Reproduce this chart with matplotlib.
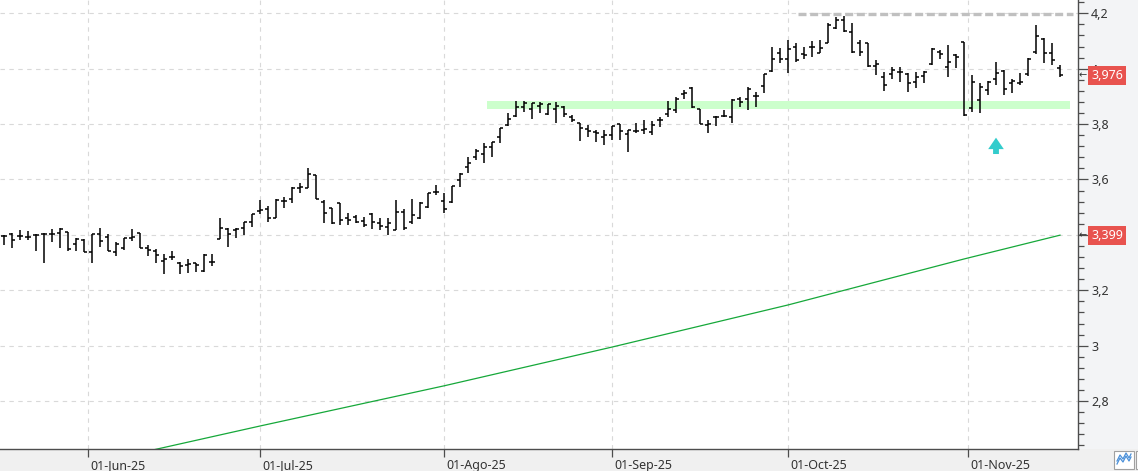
import matplotlib
matplotlib.use("Agg")
import matplotlib.pyplot as plt
import matplotlib.ticker as mtick
import matplotlib.transforms as mtrans
from matplotlib.patches import Rectangle
import numpy as np
import pandas as pd

# ── data ─────────────────────────────────────────────────────────────────────
DATES = pd.bdate_range("2025-05-16", "2025-11-18")

HIGH = [3.400, 3.406, 3.418, 3.415, 3.404, 3.406, 3.420, 3.426, 3.412, 3.388,
        3.386, 3.404, 3.424, 3.403, 3.375, 3.390, 3.420, 3.406, 3.364, 3.349,
        3.330, 3.342, 3.302, 3.313, 3.300, 3.330, 3.330, 3.462, 3.424, 3.424,
        3.448, 3.475, 3.526, 3.505, 3.529, 3.536, 3.572, 3.588, 3.643, 3.616,
        3.526, 3.498, 3.516, 3.480, 3.472, 3.464, 3.478, 3.460, 3.460, 3.526,
        3.492, 3.529, 3.520, 3.552, 3.580, 3.550, 3.578, 3.625, 3.680, 3.709,
        3.732, 3.737, 3.785, 3.839, 3.882, 3.883, 3.876, 3.880, 3.873, 3.879,
        3.864, 3.834, 3.805, 3.798, 3.780, 3.779, 3.794, 3.801, 3.779, 3.804,
        3.814, 3.811, 3.826, 3.885, 3.899, 3.924, 3.933, 3.853, 3.815, 3.829,
        3.851, 3.890, 3.899, 3.935, 3.917, 3.981, 4.077, 4.074, 4.104, 4.093,
        4.079, 4.101, 4.104, 4.164, 4.188, 4.190, 4.164, 4.104, 4.094, 4.031,
        3.989, 4.007, 4.005, 3.986, 3.989, 3.993, 4.074, 4.068, 4.086, 4.053,
        4.097, 3.977, 3.949, 3.956, 4.025, 3.995, 3.962, 3.986, 4.038, 4.158,
        4.110, 4.094, 4.013]

LOW = [3.364, 3.352, 3.382, 3.382, 3.343, 3.298, 3.373, 3.354, 3.343, 3.342,
       3.337, 3.300, 3.358, 3.342, 3.325, 3.346, 3.378, 3.352, 3.325, 3.298,
       3.258, 3.310, 3.258, 3.262, 3.266, 3.266, 3.286, 3.386, 3.358, 3.388,
       3.400, 3.430, 3.475, 3.446, 3.460, 3.496, 3.514, 3.550, 3.568, 3.529,
       3.444, 3.439, 3.436, 3.436, 3.444, 3.430, 3.420, 3.418, 3.400, 3.418,
       3.418, 3.439, 3.456, 3.496, 3.544, 3.478, 3.515, 3.572, 3.623, 3.669,
       3.659, 3.682, 3.733, 3.793, 3.825, 3.843, 3.817, 3.839, 3.833, 3.805,
       3.827, 3.808, 3.740, 3.755, 3.734, 3.726, 3.744, 3.743, 3.698, 3.767,
       3.764, 3.762, 3.791, 3.826, 3.839, 3.891, 3.859, 3.800, 3.769, 3.793,
       3.825, 3.805, 3.863, 3.851, 3.863, 3.913, 3.989, 4.019, 3.986, 4.025,
       4.034, 4.041, 4.056, 4.092, 4.142, 4.134, 4.058, 4.046, 4.007, 3.977,
       3.921, 3.962, 3.953, 3.917, 3.929, 3.949, 4.013, 4.034, 3.971, 4.001,
       3.829, 3.845, 3.841, 3.905, 3.941, 3.905, 3.913, 3.941, 3.974, 4.053,
       4.022, 4.013, 3.969]

OPEN = [3.396, 3.405, 3.396, 3.393, 3.401, 3.404, 3.405, 3.406, 3.410, 3.366,
        3.382, 3.337, 3.403, 3.393, 3.337, 3.352, 3.390, 3.406, 3.354, 3.342,
        3.304, 3.321, 3.298, 3.291, 3.297, 3.268, 3.302, 3.386, 3.420, 3.418,
        3.424, 3.446, 3.486, 3.494, 3.460, 3.523, 3.529, 3.571, 3.568, 3.616,
        3.520, 3.496, 3.516, 3.460, 3.464, 3.451, 3.475, 3.444, 3.430, 3.418,
        3.483, 3.448, 3.460, 3.502, 3.556, 3.523, 3.520, 3.597, 3.644, 3.682,
        3.692, 3.718, 3.752, 3.797, 3.831, 3.863, 3.855, 3.864, 3.836, 3.853,
        3.862, 3.825, 3.803, 3.784, 3.773, 3.753, 3.760, 3.801, 3.765, 3.776,
        3.779, 3.773, 3.813, 3.835, 3.852, 3.907, 3.931, 3.853, 3.797, 3.825,
        3.829, 3.827, 3.890, 3.890, 3.901, 3.938, 3.993, 4.056, 4.034, 4.080,
        4.053, 4.077, 4.058, 4.094, 4.146, 4.176, 4.134, 4.092, 4.092, 4.010,
        3.971, 3.981, 3.989, 3.981, 3.953, 3.974, 4.017, 4.061, 4.007, 4.049,
        4.095, 3.857, 3.887, 3.923, 3.963, 3.993, 3.949, 3.947, 3.981, 4.061,
        4.106, 4.058, 4.001]

CLOSE = [3.397, 3.382, 3.396, 3.391, 3.400, 3.404, 3.405, 3.420, 3.349, 3.386,
         3.337, 3.403, 3.378, 3.343, 3.366, 3.390, 3.393, 3.353, 3.346, 3.327,
         3.313, 3.321, 3.289, 3.295, 3.291, 3.327, 3.302, 3.424, 3.403, 3.420,
         3.446, 3.474, 3.490, 3.460, 3.526, 3.523, 3.571, 3.574, 3.620, 3.529,
         3.478, 3.444, 3.454, 3.454, 3.448, 3.436, 3.448, 3.432, 3.442, 3.484,
         3.425, 3.472, 3.516, 3.550, 3.556, 3.492, 3.575, 3.620, 3.659, 3.704,
         3.717, 3.735, 3.785, 3.820, 3.863, 3.876, 3.875, 3.871, 3.872, 3.865,
         3.835, 3.815, 3.786, 3.774, 3.767, 3.760, 3.793, 3.774, 3.777, 3.776,
         3.783, 3.798, 3.815, 3.855, 3.891, 3.911, 3.861, 3.802, 3.800, 3.825,
         3.829, 3.887, 3.881, 3.926, 3.901, 3.981, 4.034, 4.034, 4.070, 4.033,
         4.049, 4.079, 4.074, 4.158, 4.176, 4.136, 4.061, 4.061, 4.010, 4.016,
         3.941, 3.995, 3.989, 3.949, 3.969, 3.989, 4.070, 4.053, 4.025, 4.041,
         3.832, 3.953, 3.933, 3.953, 3.983, 3.926, 3.957, 3.953, 4.034, 4.118,
         4.056, 4.031, 3.976]

# moving average (green line), read at a few dates
MA_DATES = ["2025-05-16", "2025-06-12", "2025-07-01", "2025-08-01",
            "2025-09-01", "2025-10-01", "2025-10-31", "2025-11-18"]
MA_VALUES = [2.501, 2.626, 2.710, 2.855, 2.995, 3.147, 3.313, 3.399]

MONTH_TICKS = ["2025-06-01", "2025-07-01", "2025-08-01",
               "2025-09-01", "2025-10-01", "2025-11-01"]
MONTH_LABELS = ["01-Jun-25", "01-Jul-25", "01-Ago-25",
                "01-Sep-25", "01-Oct-25", "01-Nov-25"]

Y_TICKS = [2.8, 3.0, 3.2, 3.4, 3.6, 3.8, 4.0, 4.2]
Y_LABELS = ["2,8", "3", "3,2", "3,4", "3,6", "3,8", "4", "4,2"]

SUPPORT_ZONE = (3.856, 3.884)      # light green band
SUPPORT_FROM = "2025-08-11"
RESIST_LEVEL = 4.197               # grey dashed line
RESIST_FROM = "2025-10-03"
SIGNAL_DATE = "2025-11-06"         # cyan arrow
SIGNAL_RANGE = (3.692, 3.751)
LAST_CLOSE = 3.976
LAST_MA = 3.399

# ── palette ──────────────────────────────────────────────────────────────────
BAR_COLOR = "#000000"
MA_COLOR = "#16a83a"
ZONE_COLOR = "#ccffcc"
RESIST_COLOR = "#c0c0c0"
ARROW_COLOR = "#33cccc"
TAG_COLOR = "#e8534f"
GRID_COLOR = "#d9d9d9"
AXIS_COLOR = "#4d4d4d"

plt.rcParams["font.family"] = ["Noto Sans", "DejaVu Sans"]

W, H = 1138, 471
AX_RIGHT_PX, AX_BOTTOM_PX = 1078, 449


def date_pos(d):
    """Bar index of a date; non-trading days fall half way between bars."""
    d = pd.Timestamp(d)
    i = DATES.searchsorted(d)
    if i < len(DATES) and DATES[i] == d:
        return float(i)
    return i - 0.5


idx = np.arange(len(DATES))

fig = plt.figure(figsize=(W / 100, H / 100), dpi=100)
fig.patch.set_facecolor("#f0f0f0")
fig.patches.append(Rectangle((AX_RIGHT_PX / W, (H - AX_BOTTOM_PX) / H),
                             1 - AX_RIGHT_PX / W, AX_BOTTOM_PX / H,
                             transform=fig.transFigure, facecolor="#f3f4f6",
                             edgecolor="none", zorder=-1))
ax = fig.add_axes([0, (H - AX_BOTTOM_PX) / H, AX_RIGHT_PX / W, AX_BOTTOM_PX / H])
ax.set_facecolor("white")

# support zone + resistance line
ax.fill_between([date_pos(SUPPORT_FROM) - 0.6, len(DATES) + 0.25],
                SUPPORT_ZONE[0], SUPPORT_ZONE[1], color=ZONE_COLOR, lw=0, zorder=1)
ax.plot([date_pos(RESIST_FROM) - 0.8, len(DATES) + 0.6], [RESIST_LEVEL] * 2,
        color=RESIST_COLOR, lw=2.4, dashes=(2.4, 1.1), solid_capstyle="butt",
        zorder=2)

# moving average
ax.plot([date_pos(d) for d in MA_DATES], MA_VALUES, color=MA_COLOR, lw=0.9,
        zorder=2)

# OHLC bars
tick = 0.42
ax.vlines(idx, LOW, HIGH, color=BAR_COLOR, lw=1.1, zorder=3)
ax.hlines(OPEN, idx - tick, idx, color=BAR_COLOR, lw=1.1, zorder=3)
ax.hlines(CLOSE, idx, idx + tick, color=BAR_COLOR, lw=1.1, zorder=3)

# signal arrow
xa = date_pos(SIGNAL_DATE)
ax.annotate("", xy=(xa, SIGNAL_RANGE[1]), xytext=(xa, SIGNAL_RANGE[0]),
            arrowprops=dict(arrowstyle="simple,head_length=0.55,head_width=0.75,"
                                       "tail_width=0.28",
                            mutation_scale=15, color=ARROW_COLOR, lw=0,
                            shrinkA=0, shrinkB=0),
            zorder=4)

# axes limits
ax.set_xlim(-0.5, len(DATES) + 1.25)
ax.set_ylim(2.627, 4.248)

# spines
for s in ["left", "top"]:
    ax.spines[s].set_visible(False)
for s in ["right", "bottom"]:
    ax.spines[s].set_color(AXIS_COLOR)
    ax.spines[s].set_linewidth(1.0)

# y axis on the right
ax.yaxis.tick_right()
ax.set_yticks(Y_TICKS)
ax.set_yticklabels(Y_LABELS)
ax.yaxis.set_minor_locator(mtick.MultipleLocator(0.04))
ax.tick_params(axis="y", which="major", length=7, width=0.9, color=AXIS_COLOR,
               labelcolor="#333333", labelsize=9, pad=2.5)
ax.tick_params(axis="y", which="minor", length=4, width=0.9, color=AXIS_COLOR)

# x axis: month starts
ax.set_xticks([date_pos(d) for d in MONTH_TICKS])
ax.set_xticklabels(MONTH_LABELS, ha="left")
ax.tick_params(axis="x", which="major", length=6, width=0.9, color=AXIS_COLOR,
               labelcolor="#333333", labelsize=9, pad=1.0)
shift = mtrans.ScaledTranslation(2 / 100, 0, fig.dpi_scale_trans)
for lbl in ax.get_xticklabels():
    lbl.set_transform(lbl.get_transform() + shift)

ax.grid(True, which="major", color=GRID_COLOR, linestyle=(0, (4, 4)), lw=0.8)
ax.set_axisbelow(True)

# last-value tags on the price axis
blend = mtrans.blended_transform_factory(ax.transAxes, ax.transData)
for val in (LAST_CLOSE, LAST_MA):
    ax.text(1091 / AX_RIGHT_PX, val, f"{val:.3f}".replace(".", ","),
            transform=blend, ha="left", va="center", fontsize=9,
            color="white", clip_on=False, zorder=6,
            bbox=dict(boxstyle="square,pad=0.25", fc=TAG_COLOR, ec="none"))
    ax.text(1078.5 / AX_RIGHT_PX, val, "←", transform=blend, ha="left",
            va="center", fontsize=7, color="#333333", clip_on=False, zorder=6,
            family="DejaVu Sans")

# small chart-type button, bottom right
fig.patches.append(Rectangle((1114 / W, 2 / H), 20 / W, 18 / H,
                             transform=fig.transFigure, facecolor="white",
                             edgecolor="#a0a0a0", lw=0.8))
fig.patches.append(Rectangle((1136 / W, 2 / H), 6 / W, 18 / H,
                             transform=fig.transFigure, facecolor="white",
                             edgecolor="#a0a0a0", lw=0.8))
zig_x = np.array([1117, 1120, 1123, 1126, 1129, 1131]) / W
zig_y = (H - np.array([464, 458, 462, 456, 461, 457])) / H
fig.lines.append(plt.Line2D(zig_x, zig_y, transform=fig.transFigure,
                            color="#4a90d9", lw=0.9))
fig.lines.append(plt.Line2D(zig_x, zig_y + 3 / H, transform=fig.transFigure,
                            color="#4a90d9", lw=0.9))

fig.savefig("out.png", dpi=100, facecolor=fig.get_facecolor())
